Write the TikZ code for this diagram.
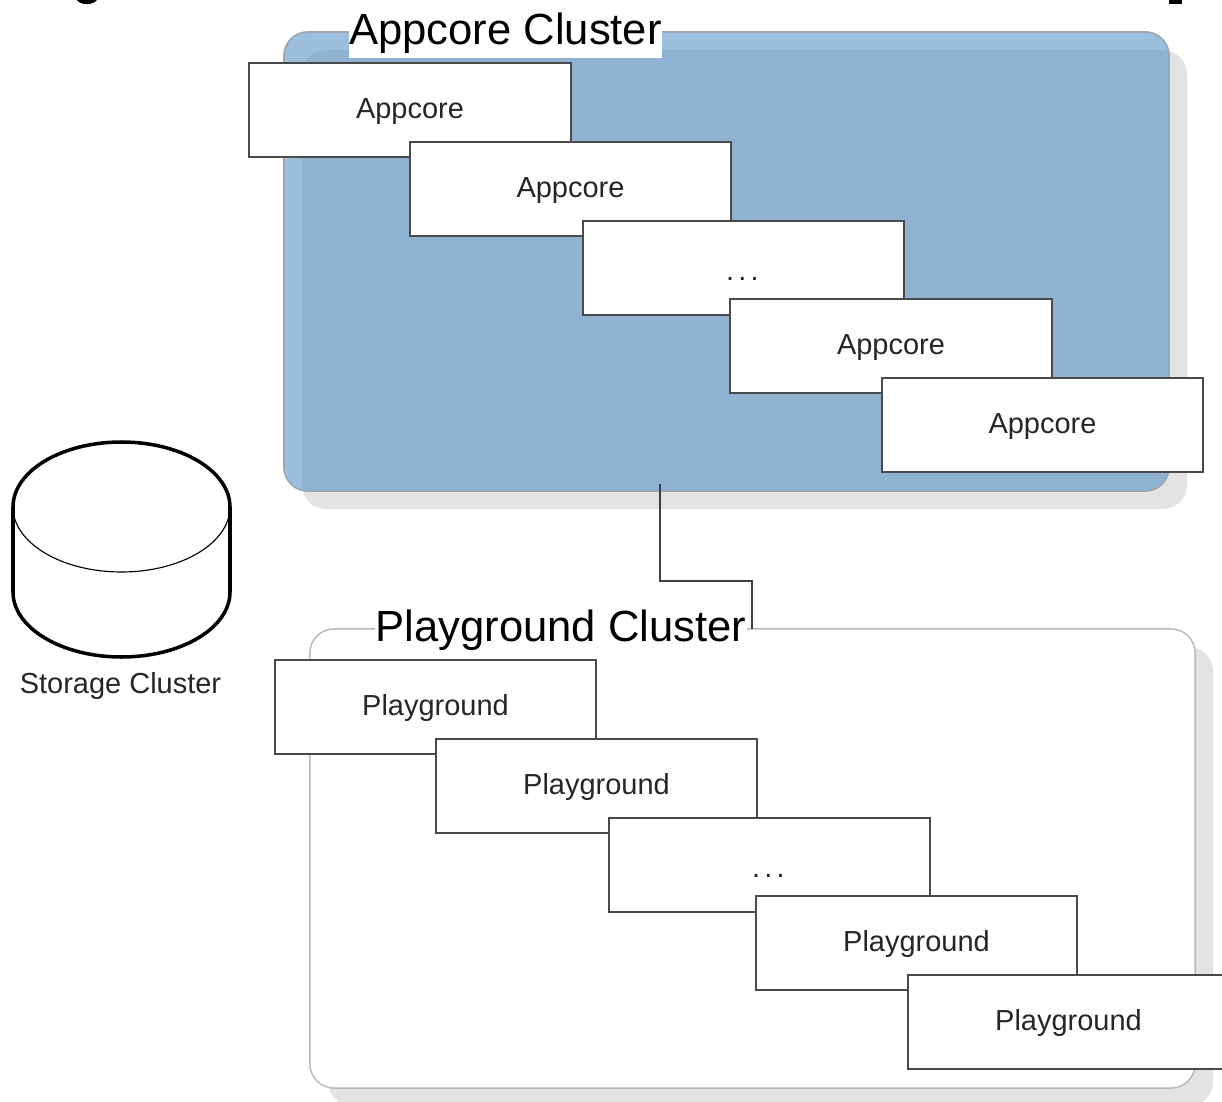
\documentclass[tikz,border=0pt]{standalone}
\usepackage{fontspec}
\setmainfont{Liberation Sans}
\usepackage{xcolor}
\usepackage{tikz}
\usetikzlibrary{positioning, calc}

\definecolor{clusterlight}{HTML}{9DBFDF}
\definecolor{clusterdark}{HTML}{8FB2D2}
\definecolor{clusteredge}{HTML}{9AA6B2}
\definecolor{shadowgrey}{HTML}{E3E3E3}
\definecolor{boxedge}{HTML}{4A4A4A}

\newcommand{\gapdots}{\raisebox{-3pt}{\kern-1.5pt.\kern3pt.\kern3pt.}}

\tikzset{
  serverbox/.style={draw=boxedge, line width=1.4pt, fill=white, inner sep=0pt, outer sep=0pt,
    minimum width=8.025cm, minimum height=2.36cm, text height=0.52cm, text depth=0.1cm,
    font=\fontsize{20.6}{24}\selectfont, text=black!85},
  clusterbox/.style={line width=1pt, rounded corners=0.6cm, inner sep=0pt, outer sep=0pt,
    minimum width=22.125cm, minimum height=11.475cm},
  clustertitle/.style={fill=white, inner sep=0pt, outer sep=0pt, minimum height=1.25cm,
    font=\fontsize{31}{37}\selectfont},
  plainlabel/.style={font=\fontsize{20.6}{24}\selectfont, text=black!85},
  link/.style={draw=black!75, line width=1.2pt}
}

\begin{document}
\begin{tikzpicture}[x=0.025cm, y=-0.025cm]
        \useasboundingbox (0,0) rectangle (1222,1102);

        % bits of a heading cut off by the page edge
        \fill[black] (77,0) .. controls (80,5) and (92,6) .. (97,0) -- cycle;
        \fill[black] (1169,0) rectangle (1182,4);

        % appcore cluster
        \fill[shadowgrey, rounded corners=0.6cm] (302,50) rectangle (1187,509);
        \node[clusterbox, fill=clusterlight, draw=clusteredge] (appcorecluster) at (726.5,261.5) {};
        \begin{scope}
          \clip[rounded corners=0.6cm] (284,32) rectangle (1169,491);
          \fill[clusterdark, rounded corners=0.6cm] (302,50) rectangle (1187,509);
        \end{scope}
        \node[clusterbox, draw=clusteredge] (appcoreedge) at (726.5,261.5) {};
        \node[clustertitle, minimum width=7.825cm] (appcoretitle) at (505.5,33) {Appcore Cluster};

        \node[serverbox] (appcore1) at (410,110) {Appcore};
        \node[serverbox] (appcore2) at (570.5,189) {Appcore};
        \node[serverbox] (appcore3) at (743.5,268) {\gapdots};
        \node[serverbox] (appcore4) at (891,346) {Appcore};
        \node[serverbox] (appcore5) at (1042.5,425) {Appcore};

        % storage
        \draw[line width=2.5pt, fill=white] (13,507) arc[x radius=108.5, y radius=65, start angle=180, end angle=360]
          -- (230,592) arc[x radius=108.5, y radius=65, start angle=0, end angle=180] -- cycle;
        \draw[line width=0.8pt] (13,507) arc[x radius=108.5, y radius=65, start angle=180, end angle=0];
        \node[plainlabel] (storagelabel) at (120.5,686) {Storage Cluster};

        % playground cluster
        \fill[shadowgrey, rounded corners=0.6cm] (328,647) rectangle (1213,1106);
        \node[clusterbox, fill=white, draw=black!28] (playgroundcluster) at (752.5,858.5) {};
        \node[clustertitle, minimum width=9.3cm] (playgroundtitle) at (561,630) {Playground Cluster};

        \node[serverbox] (playground1) at (435.5,707) {Playground};
        \node[serverbox] (playground2) at (596.5,786) {Playground};
        \node[serverbox] (playground3) at (769.5,865) {\gapdots};
        \node[serverbox] (playground4) at (916.5,943) {Playground};
        \node[serverbox] (playground5) at (1068.5,1022) {Playground};

        % link between the clusters
        \coordinate (linkstart) at (660,484);
        \coordinate (linkbend) at (752,581);
        \coordinate (linkend) at (752,629);
        \draw[link] (linkstart) |- (linkbend) -- (linkend);
      \end{tikzpicture}
\end{document}
